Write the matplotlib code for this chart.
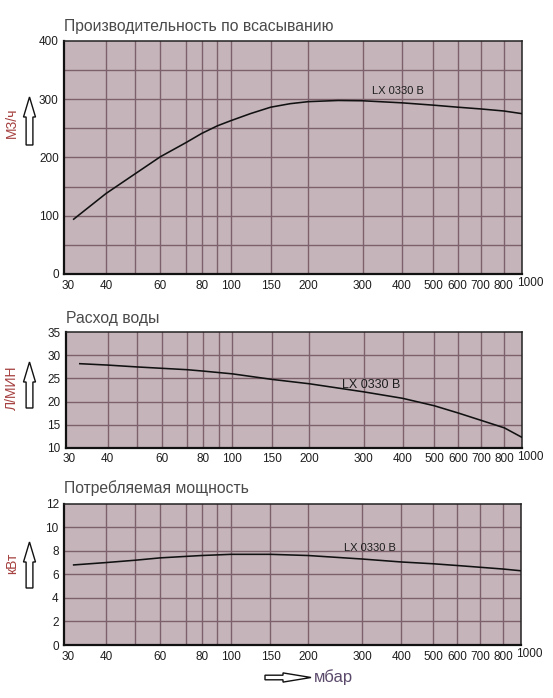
import numpy as np
import matplotlib
matplotlib.use("Agg")
import matplotlib.pyplot as plt
from matplotlib.patches import Polygon
from matplotlib.transforms import ScaledTranslation

plt.rcParams['font.family'] = ['Liberation Sans', 'DejaVu Sans']

# ---------------- data ----------------
# x-axis (pressure, mbar) grid values and their relative positions on the chart's own scale
scale_vals = [10, 30, 40, 50, 60, 70, 80, 90, 100, 150, 200, 300, 400, 500, 600, 700, 800, 900, 1000, 3000]
scale_pos = [-0.55, 0.0, 0.0912, 0.1552, 0.2099, 0.2654, 0.3004, 0.3345, 0.3645, 0.4512,
             0.5334, 0.6524, 0.7376, 0.8067, 0.8601, 0.9104, 0.9606, 1.0, 1.018, 1.5]
x_tick_vals = [30, 40, 60, 80, 100, 150, 200, 300, 400, 500, 600, 700, 800]
x_grid_vals = [40, 50, 60, 70, 80, 90, 100, 150, 200, 300, 400, 500, 600, 700, 800]

# Suction capacity, m3/h
cap_x = [32, 40, 50, 60, 70, 80, 90, 100, 122, 150, 174, 200, 250, 300, 400, 500, 600, 700, 800, 900]
cap_y = [94, 138, 172, 201, 225, 241, 254, 263, 275, 286, 292, 295.5, 297.5, 297, 293.5, 289.5, 286, 283, 279.5, 275]

# Water consumption, l/min
water_x = [33, 40, 50, 60, 70, 80, 100, 150, 200, 300, 400, 500, 600, 700, 800, 900]
water_y = [28.2, 27.9, 27.5, 27.2, 26.9, 26.6, 26.0, 24.8, 23.85, 22.1, 20.7, 19.1, 17.5, 15.9, 14.3, 12.2]

# Power consumption, kW
pow_x = [32, 40, 50, 60, 80, 100, 150, 200, 300, 400, 500, 600, 700, 800, 900]
pow_y = [6.8, 7.0, 7.2, 7.4, 7.6, 7.7, 7.7, 7.6, 7.3, 7.05, 6.9, 6.75, 6.6, 6.45, 6.3]

titles = ["Производительность по всасыванию", "Расход воды", "Потребляемая мощность"]
units = ["М3/ч", "Л/МИН", "кВт"]
curve_label = "LX 0330 B"
x_unit = "мбар"

# ---------------- helpers ----------------
lv = np.log10(scale_vals)
sp = np.array(scale_pos)


def fwd(x):
    x = np.asarray(x, dtype=float)
    with np.errstate(divide='ignore', invalid='ignore'):
        lx = np.log10(np.clip(x, 1e-3, None))
    return np.interp(lx, lv, sp)


def inv(f):
    f = np.asarray(f, dtype=float)
    return 10 ** np.interp(f, sp, lv)


W, H = 553, 698
fig = plt.figure(figsize=(W / 100, H / 100), dpi=100)
fig.patch.set_facecolor('white')


def rect(l, r, t, b):
    return [l / W, 1 - b / H, (r - l) / W, (b - t) / H]


BG = '#c5b5ba'
GRID = '#7c606b'
TXT = '#1e1e1e'

panels = [
    dict(r=rect(64.3, 521.7, 40.7, 274), x=cap_x, y=cap_y, ylim=(0, 400),
         yt=np.arange(0, 401, 100), yg=np.arange(50, 400, 50), lab=(390, 314), labfs=8.0),
    dict(r=rect(66, 522.3, 332.3, 447.7), x=water_x, y=water_y, ylim=(10, 35),
         yt=np.arange(10, 36, 5), yg=np.arange(15, 35, 5), lab=(318, 23.6), labfs=9.0),
    dict(r=rect(64.3, 521.3, 503.7, 645), x=pow_x, y=pow_y, ylim=(0, 12),
         yt=np.arange(0, 13, 2), yg=np.arange(2, 12, 2), lab=(318, 8.26), labfs=8.0),
]

axes = []
for i, p in enumerate(panels):
    ax = fig.add_axes(p['r'])
    ax.set_xscale('function', functions=(fwd, inv))
    ax.set_xlim(30, 900)
    ax.set_ylim(*p['ylim'])
    ax.set_facecolor(BG)
    for xv in x_grid_vals:
        ax.axvline(xv, color=GRID, lw=1.0, zorder=1)
    for yv in p['yg']:
        ax.axhline(yv, color=GRID, lw=1.0, zorder=1)
    ax.plot(p['x'], p['y'], color='#111111', lw=1.15, zorder=3, solid_joinstyle='round')
    ax.set_xticks(x_tick_vals)
    ax.set_xticklabels([str(v) for v in x_tick_vals])
    ax.xaxis.set_minor_locator(matplotlib.ticker.NullLocator())
    ax.set_yticks(p['yt'])
    ax.set_yticklabels([str(int(v)) for v in p['yt']])
    ax.tick_params(axis='both', length=0, labelsize=8.5, colors=TXT, pad=4)
    first = ax.get_xticklabels()[0]
    first.set_transform(first.get_transform() + ScaledTranslation(2.5 / 72, 0, fig.dpi_scale_trans))
    for s in ['left', 'bottom']:
        ax.spines[s].set_linewidth(1.6)
        ax.spines[s].set_color('#111111')
    for s in ['top', 'right']:
        ax.spines[s].set_linewidth(1.1)
        ax.spines[s].set_color('#222222')
    ax.annotate("1000", xy=(1000, 0), xycoords=('data', 'axes fraction'),
                xytext=(0, -2.5), textcoords='offset points', ha='center', va='top',
                fontsize=8.5, color=TXT, annotation_clip=False)
    ax.text(p['lab'][0], p['lab'][1], curve_label, ha='center', va='center',
            fontsize=p['labfs'], color=TXT, zorder=4)
    axes.append(ax)

# overlay for titles, unit labels and hollow arrows (pixel coordinates)
ov = fig.add_axes([0, 0, 1, 1], zorder=10)
ov.set_xlim(0, W)
ov.set_ylim(H, 0)
ov.axis('off')
ov.patch.set_visible(False)

title_pos = [(63.5, 26), (66, 318), (63.5, 488.5)]
for t, (tx, ty) in zip(titles, title_pos):
    ov.text(tx, ty, t, ha='left', va='center', fontsize=11.3, color='#4a4a4a')

unit_pos = [(12, 123), (12, 388), (12, 563)]
for u, (ux, uy) in zip(units, unit_pos):
    ov.text(ux, uy, u, ha='center', va='center', rotation=90, fontsize=10, color='#a5403f')

arrows_v = [(29.5, 97, 145), (29.5, 362, 408), (29.5, 542, 588)]
for cx, ty, by in arrows_v:
    hw, sw, hl = 6.0, 3.4, 20
    pts = [(cx, ty), (cx + hw, ty + hl), (cx + sw, ty + hl), (cx + sw, by),
           (cx - sw, by), (cx - sw, ty + hl), (cx - hw, ty + hl)]
    ov.add_patch(Polygon(pts, closed=True, facecolor='white', edgecolor='#111111', lw=1.0))

# horizontal arrow + x unit
x0, x1, cy = 265, 311, 677.5
sh, hh, hs = 2.3, 4.6, 283
pts = [(x0, cy - sh), (hs, cy - sh), (hs, cy - hh), (x1, cy), (hs, cy + hh), (hs, cy + sh), (x0, cy + sh)]
ov.add_patch(Polygon(pts, closed=True, facecolor='white', edgecolor='#111111', lw=1.0))
ov.text(314, 677, x_unit, ha='left', va='center', fontsize=12, color='#5b4a6b')

fig.savefig('out.png', dpi=100, facecolor='white')
